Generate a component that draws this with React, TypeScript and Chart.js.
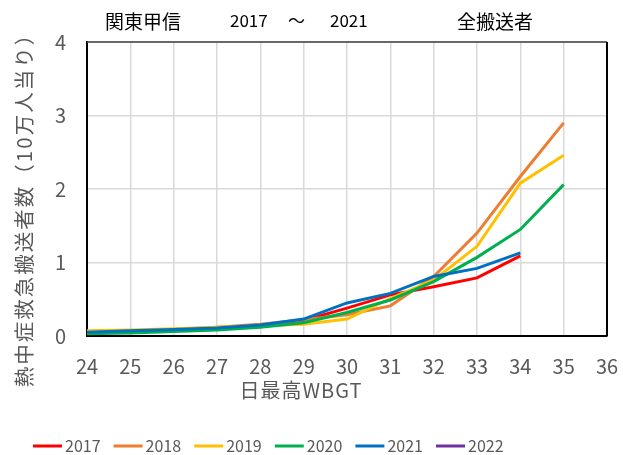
import React, { useEffect, useRef } from "react";
import { Chart, registerables } from "chart.js";

Chart.register(...registerables);

const WBGT = [24, 25, 26, 27, 28, 29, 30, 31, 32, 33, 34, 35];
const X_TICKS = [24, 25, 26, 27, 28, 29, 30, 31, 32, 33, 34, 35, 36];
const Y_TICKS = [0, 1, 2, 3, 4];

const SERIES_NAMES = ["2017", "2018", "2019", "2020", "2021", "2022"];
const SERIES_COLORS = ["#FF0000", "#ED7D31", "#FFC000", "#00B050", "#0070C0", "#7030A0"];

const V2017 = [0.05, 0.06, 0.08, 0.11, 0.15, 0.21, 0.38, 0.56, 0.67, 0.79, 1.09];
const V2018 = [0.06, 0.07, 0.09, 0.12, 0.16, 0.22, 0.29, 0.41, 0.81, 1.40, 2.17, 2.90];
const V2019 = [0.07, 0.08, 0.10, 0.12, 0.14, 0.16, 0.23, 0.51, 0.76, 1.22, 2.08, 2.46];
const V2020 = [0.03, 0.04, 0.06, 0.08, 0.12, 0.18, 0.32, 0.49, 0.74, 1.07, 1.45, 2.06];
const V2021 = [0.05, 0.07, 0.09, 0.11, 0.15, 0.23, 0.45, 0.58, 0.81, 0.92, 1.13];
const V2022: number[] = [];

const SERIES_VALUES = [V2017, V2018, V2019, V2020, V2021, V2022];

const HEADER_REGION = "関東甲信";
const HEADER_FROM = "2017";
const HEADER_TILDE = "～";
const HEADER_TO = "2021";
const HEADER_GROUP = "全搬送者";
const X_TITLE = "日最高WBGT";
const Y_TITLE = "熱中症救急搬送者数（10万人当り）";

const FONT = '"Noto Sans CJK JP", "Noto Sans", sans-serif';
const GRAY = "#595959";

const extrasPlugin = {
  id: "extras",
  afterDraw(chart: any) {
    const ctx = chart.ctx as any;
    const a = chart.chartArea;
    ctx.save();
    // plot border (top and right)
    ctx.lineWidth = 1.5;
    ctx.strokeStyle = "#404040";
    ctx.beginPath();
    ctx.moveTo(a.left, a.top);
    ctx.lineTo(a.right, a.top);
    ctx.stroke();
    ctx.strokeStyle = "#000";
    ctx.lineWidth = 2;
    ctx.beginPath();
    ctx.moveTo(a.right, a.top);
    ctx.lineTo(a.right, a.bottom);
    ctx.stroke();

    // header
    ctx.fillStyle = "#000";
    ctx.textBaseline = "middle";
    ctx.textAlign = "left";
    ctx.font = `19px ${FONT}`;
    ctx.fillText(HEADER_REGION, 105, 22);
    ctx.fillText(HEADER_GROUP, 457, 22);
    ctx.font = `17px ${FONT}`;
    ctx.fillText(HEADER_FROM, 230, 21);
    ctx.fillText(HEADER_TILDE, 288, 21);
    ctx.fillText(HEADER_TO, 330, 21);

    // axis titles
    ctx.fillStyle = GRAY;
    ctx.font = `20px ${FONT}`;
    ctx.textAlign = "center";
    ctx.letterSpacing = "1px";
    ctx.fillText(X_TITLE, 301, 390);
    ctx.save();
    ctx.font = `20.5px ${FONT}`;
    ctx.letterSpacing = "2px";
    ctx.translate(24, 205);
    ctx.rotate(-Math.PI / 2);
    ctx.fillText(Y_TITLE, 0, 0);
    ctx.restore();
    ctx.letterSpacing = "0px";

    // legend
    ctx.textAlign = "left";
    ctx.font = `16px ${FONT}`;
    chart.data.datasets.forEach((ds: any, i: number) => {
      const x = 33 + i * 80.6;
      const y = 446;
      ctx.strokeStyle = ds.borderColor;
      ctx.lineWidth = 3;
      ctx.beginPath();
      ctx.moveTo(x, y);
      ctx.lineTo(x + 29, y);
      ctx.stroke();
      ctx.fillStyle = GRAY;
      ctx.fillText(ds.label, x + 32, y);
    });
    ctx.restore();
  },
};

export default function App() {
  const ref = useRef<HTMLCanvasElement>(null);
  useEffect(() => {
    if (!ref.current) return;
    const datasets = SERIES_NAMES.map((name, i) => ({
      label: name,
      data: SERIES_VALUES[i].map((v, j) => ({ x: WBGT[j], y: v })),
      borderColor: SERIES_COLORS[i],
      backgroundColor: SERIES_COLORS[i],
      borderWidth: 3,
      pointRadius: 0,
      tension: 0,
      fill: false,
      order: SERIES_NAMES.length - i,
    }));
    const chart = new Chart(ref.current, {
      type: "line",
      data: { datasets },
      options: {
        animation: false,
        responsive: false,
        layout: { padding: { left: 0, top: 42, right: 16, bottom: 0 } },
        plugins: { legend: { display: false }, tooltip: { enabled: false }, title: { display: false } },
        scales: {
          x: {
            type: "linear",
            min: X_TICKS[0],
            max: X_TICKS[X_TICKS.length - 1],
            afterBuildTicks: (s: any) => {
              s.ticks = X_TICKS.map((v) => ({ value: v }));
            },
            afterFit: (s: any) => {
              s.height = 119;
              s.paddingLeft = 0;
              s.paddingRight = 0;
            },
            grid: { color: "#D9D9D9", lineWidth: 1.5, drawTicks: false },
            border: { color: "#000", width: 2 },
            ticks: { color: GRAY, font: { family: FONT, size: 20 }, padding: 18 },
          },
          y: {
            min: Y_TICKS[0],
            max: Y_TICKS[Y_TICKS.length - 1],
            afterBuildTicks: (s: any) => {
              s.ticks = Y_TICKS.map((v) => ({ value: v }));
            },
            afterFit: (s: any) => {
              s.width = 87;
              s.paddingTop = 0;
              s.paddingBottom = 0;
            },
            grid: { color: "#D9D9D9", lineWidth: 1.5, drawTicks: false },
            border: { color: "#000", width: 2 },
            ticks: { color: GRAY, font: { family: FONT, size: 20 }, padding: 21 },
          },
        },
      },
      plugins: [extrasPlugin],
    });
    return () => chart.destroy();
  }, []);
  return (
    <div style={{ position: "fixed", left: 0, top: 0, width: 623, height: 455, background: "#fff" }}>
      <canvas ref={ref} width={623} height={455} style={{ display: "block" }} />
    </div>
  );
}
